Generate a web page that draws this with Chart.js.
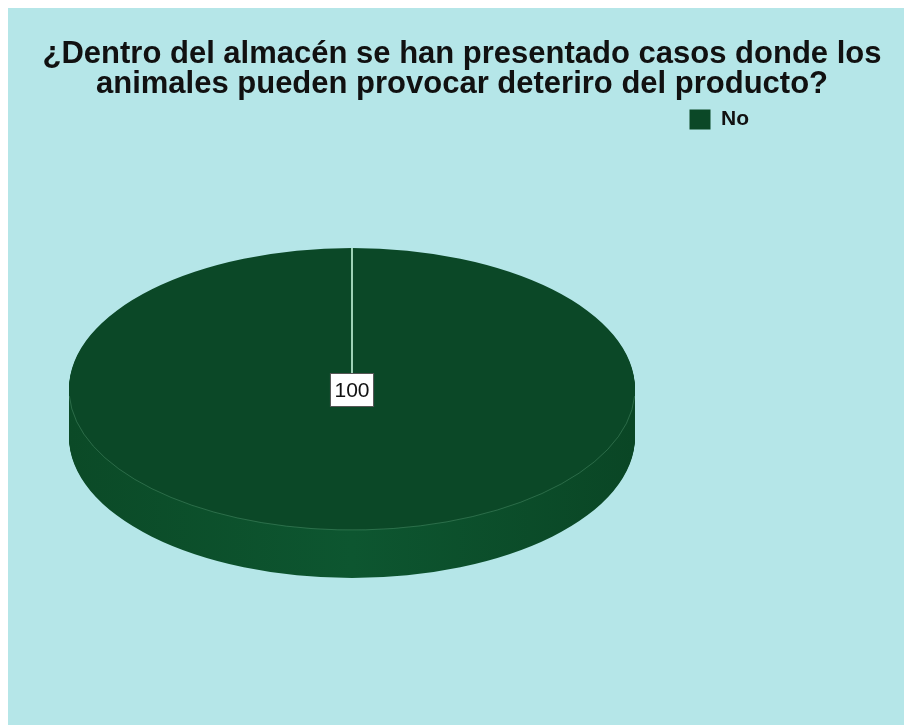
<!DOCTYPE html>
<html>
<head>
<meta charset="utf-8">
<script src="https://cdn.jsdelivr.net/npm/chart.js@4.4.1/dist/chart.umd.min.js"></script>
<style>
    body { margin: 0; background: #ffffff; }
    #wrap { position: absolute; left: 8px; top: 8px; width: 896px; height: 717px; background: #b5e6e8; }
</style>
</head>
<body>
<div id="wrap"><canvas id="pieChart" width="896" height="717"></canvas></div>
<script>
// chart data
const titleLines = ["¿Dentro del almacén se han presentado casos donde los", "animales pueden provocar deteriro del producto?"];
const categories = ["No"];
const percentages = [100];
const sliceColors = ["#0b4827"];
const sideColors = ["#0d5630"];

const fontFamily = "Arial, Helvetica, sans-serif";

// 3d look
const pieCenter = { x: 344, y: 381 };
const pieRadius = 283;
const squash = 141 / 283;   // vertical / horizontal radius
const depth = 48;

// put the pie where it sits in the picture, and let the title use the full width
const placePie = {
    id: "placePie",
    afterLayout(chart) {
        chart.chartArea = {
            left: pieCenter.x - pieRadius,
            right: pieCenter.x + pieRadius,
            top: pieCenter.y - pieRadius,
            bottom: pieCenter.y + pieRadius,
            width: pieRadius * 2,
            height: pieRadius * 2
        };
        const title = chart.titleBlock;
        title.left = 12;
        title.right = chart.width;
        title.width = title.right - title.left;
    }
};

const pie3d = {
    id: "pie3d",
    beforeDatasetsDraw(chart) {
        const ctx = chart.ctx;
        const arcs = chart.getDatasetMeta(0).data;
        arcs.forEach(function (arc, i) {
            const p = arc.getProps(["x", "y", "startAngle", "endAngle", "outerRadius"]);
            const ry = p.outerRadius * squash;
            const grad = ctx.createLinearGradient(p.x - p.outerRadius, 0, p.x + p.outerRadius, 0);
            grad.addColorStop(0, "#0b4a27");
            grad.addColorStop(0.5, sideColors[i]);
            grad.addColorStop(1, "#0a4625");
            ctx.save();
            ctx.fillStyle = grad;
            for (let d = depth; d > 0; d--) {
                ctx.beginPath();
                ctx.ellipse(p.x, p.y + d, p.outerRadius, ry, 0, p.startAngle, p.endAngle);
                ctx.lineTo(p.x, p.y + d);
                ctx.closePath();
                ctx.fill();
            }
            ctx.restore();
        });
        // squash the top face
        ctx.save();
        ctx.translate(0, pieCenter.y);
        ctx.scale(1, squash);
        ctx.translate(0, -pieCenter.y);
    },
    afterDatasetsDraw(chart) {
        const ctx = chart.ctx;
        ctx.restore();
        const arcs = chart.getDatasetMeta(0).data;
        const values = chart.data.datasets[0].data;
        arcs.forEach(function (arc, i) {
            const p = arc.getProps(["x", "y", "startAngle", "endAngle", "outerRadius"]);
            const ry = p.outerRadius * squash;
            // faint edge between top and side
            ctx.save();
            ctx.strokeStyle = "rgba(120, 190, 150, 0.3)";
            ctx.lineWidth = 1;
            ctx.beginPath();
            ctx.ellipse(p.x, p.y, p.outerRadius, ry, 0, Math.max(p.startAngle, 0.05), Math.min(p.endAngle, Math.PI - 0.05));
            ctx.stroke();
            // slice boundary
            ctx.strokeStyle = "#9fd2b6";
            ctx.lineWidth = 2;
            ctx.beginPath();
            ctx.moveTo(p.x, p.y);
            ctx.lineTo(p.x + p.outerRadius * Math.cos(p.startAngle), p.y + ry * Math.sin(p.startAngle));
            ctx.stroke();
            // value label
            const mid = (p.startAngle + p.endAngle) / 2;
            const full = p.endAngle - p.startAngle > Math.PI * 1.99;
            const lx = full ? p.x : p.x + p.outerRadius * 0.6 * Math.cos(mid);
            const ly = full ? p.y + 1 : p.y + ry * 0.6 * Math.sin(mid);
            ctx.font = "21px " + fontFamily;
            ctx.textAlign = "center";
            ctx.textBaseline = "middle";
            const text = String(values[i]);
            const w = ctx.measureText(text).width + 9;
            const h = 34;
            ctx.fillStyle = "#ffffff";
            ctx.fillRect(lx - w / 2, ly - h / 2, w, h);
            ctx.strokeStyle = "#555555";
            ctx.lineWidth = 1;
            ctx.strokeRect(lx - w / 2 + 0.5, ly - h / 2 + 0.5, w - 1, h - 1);
            ctx.fillStyle = "#111111";
            ctx.fillText(text, lx, ly + 1);
            ctx.restore();
        });
    }
};

const ctx = document.getElementById("pieChart").getContext("2d");

const chart = new Chart(ctx, {
    type: "pie",
    data: {
        labels: categories,
        datasets: [{
            data: percentages,
            backgroundColor: sliceColors,
            borderWidth: 0,
            clip: false
        }]
    },
    options: {
        responsive: false,
        animation: false,
        events: [],
        layout: {
            padding: { left: 0, right: 145, top: 0, bottom: 0 }
        },
        plugins: {
            title: {
                display: true,
                text: titleLines,
                color: "#111111",
                font: { family: fontFamily, size: 31, weight: "bold", lineHeight: 0.95 },
                padding: { top: 32, bottom: 10 }
            },
            legend: {
                position: "right",
                align: "start",
                labels: {
                    color: "#111111",
                    boxWidth: 21,
                    boxHeight: 20,
                    padding: 101,
                    font: { family: fontFamily, size: 21, weight: "bold" }
                }
            },
            tooltip: { enabled: false }
        }
    },
    plugins: [placePie, pie3d]
});
</script>
</body>
</html>
